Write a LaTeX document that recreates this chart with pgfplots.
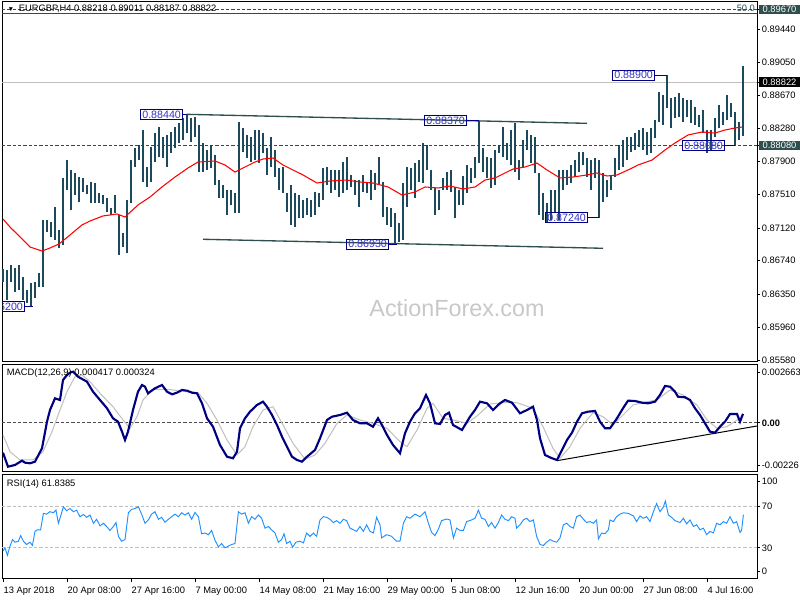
\documentclass[border=0pt]{standalone}
\usepackage{pgfplots}
\pgfplotsset{compat=1.18}
\usepackage{pgfplotstable}
\usepackage{fontspec}
\setmainfont{Liberation Sans}
\definecolor{barc}{RGB}{28,74,92}
\definecolor{slate}{RGB}{47,79,79}
\definecolor{navyc}{RGB}{0,0,128}
\definecolor{lbltxt}{RGB}{51,51,204}
\definecolor{silverc}{RGB}{192,192,192}
\definecolor{rsic}{RGB}{30,144,255}
\definecolor{wmc}{RGB}{200,200,200}

\pgfplotstableread{
j hi lo
0 0.86642 0.86490
2 0.86630 0.86280
4 0.86688 0.86490
6 0.86654 0.86373
8 0.86688 0.86397
10 0.86548 0.86280
12 0.86397 0.86245
14 0.86478 0.86200
16 0.86490 0.86303
18 0.86595 0.86432
20 0.87213 0.86432
22 0.87213 0.87073
24 0.87189 0.87015
26 0.87364 0.86980
28 0.87096 0.86886
30 0.87703 0.86921
32 0.87912 0.87563
34 0.87796 0.87329
36 0.87761 0.87504
38 0.87714 0.87423
40 0.87703 0.87539
42 0.87621 0.87516
44 0.87656 0.87411
46 0.87644 0.87411
48 0.87528 0.87411
50 0.87504 0.87400
52 0.87469 0.87306
54 0.87353 0.87271
56 0.87504 0.87294
58 0.87271 0.86805
60 0.87061 0.86898
62 0.87446 0.86828
64 0.87912 0.87411
66 0.88052 0.87831
68 0.88087 0.87912
70 0.88262 0.87656
72 0.87831 0.87598
74 0.88064 0.87656
76 0.88227 0.87889
78 0.88297 0.87947
80 0.88181 0.87936
82 0.88204 0.87831
84 0.88239 0.87994
86 0.88297 0.88052
88 0.88344 0.88111
90 0.88402 0.88146
92 0.88440 0.88227
94 0.88402 0.88122
96 0.88414 0.88181
98 0.88321 0.87772
100 0.88111 0.87772
102 0.88029 0.87796
104 0.88087 0.87819
106 0.87971 0.87621
108 0.87679 0.87469
110 0.87621 0.87469
112 0.87563 0.87271
114 0.87563 0.87388
116 0.87528 0.87294
118 0.88356 0.87294
120 0.88286 0.88006
122 0.88204 0.87936
124 0.88181 0.87889
126 0.88262 0.87912
128 0.88262 0.87877
130 0.88227 0.87994
132 0.88052 0.87738
134 0.88181 0.87831
136 0.88029 0.87714
138 0.87819 0.87563
140 0.87831 0.87528
142 0.87528 0.87306
144 0.87621 0.87155
146 0.87528 0.87131
148 0.87504 0.87236
150 0.87446 0.87236
152 0.87469 0.87271
154 0.87446 0.87248
156 0.87539 0.87271
158 0.87528 0.87364
160 0.87819 0.87446
162 0.87831 0.87621
164 0.87796 0.87528
166 0.87796 0.87563
168 0.87796 0.87481
170 0.87889 0.87528
172 0.87947 0.87563
174 0.87738 0.87598
176 0.87679 0.87504
178 0.87679 0.87364
180 0.87738 0.87539
182 0.87644 0.87528
184 0.87796 0.87446
186 0.87761 0.87563
188 0.87947 0.87621
190 0.87656 0.87248
192 0.87364 0.87155
194 0.87353 0.87131
196 0.87294 0.86930
198 0.87178 0.86956
200 0.87644 0.86980
202 0.87831 0.87364
204 0.87819 0.87563
206 0.87877 0.87469
208 0.87912 0.87656
210 0.88111 0.87644
212 0.88087 0.87796
214 0.87796 0.87563
216 0.87586 0.87271
218 0.87563 0.87329
220 0.87703 0.87563
222 0.87772 0.87563
224 0.87796 0.87539
226 0.87598 0.87236
228 0.87563 0.87388
230 0.87726 0.87388
232 0.87854 0.87528
234 0.87819 0.87644
236 0.87947 0.87703
238 0.88370 0.87877
240 0.88052 0.87772
242 0.87947 0.87703
244 0.87936 0.87586
246 0.88029 0.87621
248 0.88087 0.87994
250 0.88297 0.87947
252 0.88111 0.87912
254 0.88262 0.87854
256 0.88344 0.87772
258 0.87912 0.87679
260 0.88146 0.87819
262 0.88262 0.88029
264 0.88204 0.87877
266 0.88181 0.87761
268 0.87761 0.87271
270 0.87528 0.87213
272 0.87411 0.87189
274 0.87563 0.87213
276 0.87563 0.87294
278 0.87796 0.87213
280 0.87796 0.87563
282 0.87796 0.87621
284 0.87854 0.87644
286 0.87912 0.87714
288 0.88006 0.87772
290 0.88006 0.87854
292 0.87936 0.87714
294 0.87912 0.87563
296 0.87936 0.87703
298 0.87912 0.87240
300 0.87761 0.87423
302 0.87679 0.87481
304 0.87738 0.87563
306 0.87936 0.87714
308 0.88087 0.87796
310 0.88146 0.87831
312 0.88181 0.87912
314 0.88181 0.88006
316 0.88227 0.88029
318 0.88262 0.88064
320 0.88286 0.88029
322 0.88239 0.87971
324 0.88286 0.87994
326 0.88379 0.88169
328 0.88705 0.88356
330 0.88670 0.88321
332 0.88900 0.88519
334 0.88635 0.88286
336 0.88647 0.88402
338 0.88694 0.88414
340 0.88635 0.88356
342 0.88612 0.88414
344 0.88612 0.88344
346 0.88530 0.88321
348 0.88437 0.88297
350 0.88495 0.88227
352 0.88262 0.87994
354 0.88262 0.88029
356 0.88402 0.88181
358 0.88554 0.88286
360 0.88472 0.88321
362 0.88670 0.88379
364 0.88577 0.88414
366 0.88472 0.88087
368 0.88356 0.88146
370 0.89011 0.88187
}\bars

\pgfplotstableread{
j v
0 0.87224
3.5 0.87131
8.5 0.87015
13.5 0.86898
19.5 0.86851
23.5 0.86886
28 0.86933
33.5 0.87038
39.5 0.87155
43.5 0.87201
50 0.87260
57 0.87283
61 0.87248
67.5 0.87388
73.5 0.87481
79.5 0.87598
86 0.87714
92.5 0.87819
97.5 0.87889
106 0.87901
111 0.87854
116 0.87772
121 0.87831
126 0.87889
130 0.87924
135 0.87936
140 0.87854
145 0.87796
150 0.87738
157 0.87644
163.5 0.87668
172 0.87679
178.5 0.87656
185 0.87644
192.5 0.87598
199.5 0.87504
206 0.87539
211 0.87598
217.5 0.87586
223.5 0.87609
230 0.87574
236 0.87598
241 0.87679
246 0.87703
251 0.87761
255 0.87807
261 0.87831
267 0.87877
272 0.87796
278.5 0.87703
285 0.87714
292 0.87738
297 0.87761
302 0.87726
307 0.87738
313.5 0.87807
317.5 0.87854
324.5 0.87912
331 0.88029
336 0.88111
342.5 0.88204
349.5 0.88239
356 0.88227
361 0.88262
366 0.88286
369.5 0.88297
}\ma

\pgfplotstableread{
j v
0 -0.001371
2.5 -0.002016
6 -0.001937
9.5 -0.001739
11 -0.001831
13.5 -0.001859
16 -0.001785
19.5 -0.001169
22 0.000055
23.5 0.000593
26 0.001131
28.5 0.001053
30 0.001973
32 0.002203
33.5 0.002309
35 0.002355
37.5 0.002124
42 0.001895
45 0.001435
48.5 0.001053
52 0.000671
55 0.000211
57.5 0.000055
59.5 -0.000405
61 -0.000787
62.5 -0.000405
65 0.000593
67.5 0.001435
69.5 0.001743
71 0.001665
72.5 0.001361
76 0.001591
79.5 0.001743
82 0.001435
84.5 0.001315
87 0.001389
89.5 0.001513
92 0.001481
94.5 0.001389
97 0.001361
99.5 0.000901
102 0.000211
105 -0.000176
108.5 -0.001017
112 -0.001556
115 -0.001629
117 -0.001325
118.5 -0.000249
121 0.000211
123.5 0.000515
127 0.000823
130 0.000975
132 0.000744
134.5 0.000363
137 -0.000097
139.5 -0.000636
142 -0.001096
144.5 -0.001556
147 -0.001707
149.5 -0.001785
152 -0.001556
156 -0.001247
158.5 -0.000709
162 0.000133
164.5 0.000284
168.5 0.000363
172 0.000469
175 0.000133
178.5 -0.000019
182 -0.000019
185 -0.000176
187.5 0.000211
189.5 -0.000097
192 -0.000557
195 -0.001017
198.5 -0.001399
201 -0.000479
203.5 0.000055
206 0.000441
208.5 0.000671
211.5 0.001283
213.5 0.000901
216 -0.000019
218.5 -0.000051
221 0.000363
223 0.000469
225 -0.000097
229.5 -0.000327
233.5 0.000284
236 0.000593
238.5 0.000975
242 0.000901
245 0.000593
248.5 0.000901
251 0.001053
254.5 0.000929
258.5 0.000441
262 0.000593
265 0.000744
267 0.000133
268.5 -0.000709
271 -0.001477
274.5 -0.001629
277 -0.001707
279.5 -0.001247
282 -0.000787
284.5 -0.000451
287 0.000055
289.5 0.000441
292.5 0.000515
296 0.000547
298.5 0.000055
301 -0.000249
303.5 -0.000249
307 0.000211
310 0.000671
312.5 0.001021
316 0.001007
319.5 0.000929
322.5 0.000901
326 0.000975
328.5 0.001283
331 0.001697
333.5 0.001665
336 0.001435
337.5 0.001204
341 0.001177
343.5 0.001053
346 0.000671
348.5 0.000363
351 -0.000019
353.5 -0.000405
356 -0.000451
358.5 -0.000176
361 0.000055
363.5 0.000409
367 0.000409
368.5 0.000055
370 0.000417
}\macd

\pgfplotstableread{
j v
0 -0.000557
3.5 -0.001325
8.5 -0.001707
15 -0.001707
20 -0.001325
24.5 -0.000405
28.5 0.000593
32 0.001435
36 0.002124
39.5 0.002203
43.5 0.001895
48.5 0.001361
55 0.000744
60 0.000133
63.5 -0.000249
67 0.000284
70 0.001053
75 0.001545
82 0.001545
92 0.001435
97.5 0.001389
102 0.000901
107 0.000133
112 -0.000787
117 -0.001477
121 -0.001096
125 -0.000176
130 0.000593
135 0.000744
140 -0.000097
145 -0.000939
151 -0.001675
156 -0.001477
161 -0.000939
167 -0.000019
172 0.000363
178.5 0.000133
185 -0.000019
192 -0.000249
198.5 -0.000865
202 -0.001096
207 -0.000327
212 0.000671
215 0.000901
220 0.000211
225 0.000133
232 -0.000019
237 0.000316
243.5 0.000869
250 0.000929
257 0.000929
265 0.000671
270 -0.000176
275 -0.001169
278.5 -0.001629
283.5 -0.001096
288.5 -0.000249
295 0.000469
300 0.000284
305 -0.000097
310 0.000363
315 0.000823
322 0.000975
327 0.001053
333.5 0.001513
340 0.001283
347 0.000823
352 0.000133
357 -0.000249
362 -0.000176
367 0.000133
370 0.000324
}\sig

\pgfplotstableread{
j v
0 26.9
1 30.0
2.2 22.8
3.5 31.6
4.8 37.9
6 35.4
7.7 36.3
8.8 41.7
10.2 36.3
11.8 33.2
13.5 35.4
14.7 32.2
16 45.8
17.2 47.3
18.8 47.3
20.2 63.1
21.8 62.4
23.5 64.7
25.2 63.7
26.5 66.2
27.7 53.6
28.5 58.4
30.2 69.4
31.8 65.6
33.5 67.8
35.2 64.7
36.8 66.2
38.5 59.9
40.2 62.1
41.8 59.3
43.5 61.5
45.2 53.6
46.8 57.4
48.5 51.1
50.2 53.6
51.8 50.5
53.5 46.7
55.2 50.5
56.5 54.3
57.7 41.0
59.3 36.3
61 37.9
62.7 63.7
64.3 66.9
66 67.8
67.7 69.4
69.3 62.4
71 53.6
72.7 56.8
74.3 62.4
76 64.7
77.7 57.4
79.3 59.3
81 54.6
82.7 57.4
84.3 59.9
86 62.4
87.7 59.9
89.3 63.7
91 61.5
92.7 63.7
94.3 57.4
96 64.0
97.7 59.9
99.3 43.5
101 44.2
102.7 42.6
104.3 46.7
106 37.2
107.7 30.9
109.3 34.1
111 30.0
112.7 31.6
114.3 33.2
116 34.1
117.7 64.7
119.3 62.4
121 63.7
122.7 53.6
124.3 59.9
126 57.4
127.7 61.5
129.3 58.4
131 48.9
132.7 50.5
134.3 47.3
136 44.2
137.7 35.4
139.3 37.9
140.5 43.5
141.8 34.1
143.5 36.3
144.8 30.6
146.5 35.4
148.5 36.3
150.2 34.7
151.8 44.2
153.5 41.0
155.2 44.2
156.8 41.0
158.5 56.8
160.2 59.9
161.8 59.3
163.5 57.4
165.2 54.3
166.8 56.1
168.5 53.6
170.2 57.4
171.8 56.1
173.5 48.9
175.2 47.3
176.8 45.8
178.5 50.5
180.2 45.8
181.8 52.1
183.5 45.8
185.2 44.2
186.8 59.3
188.5 52.1
189.3 39.5
191.8 42.6
194.3 41.0
196.8 36.3
198.5 36.5
200.2 53.6
201.8 59.9
203.5 58.4
206 62.4
208.5 59.9
211 64.7
212.7 53.6
214.3 44.8
216 41.7
217.7 48.0
219.3 56.1
221.8 57.7
223.5 56.8
225.2 39.5
226.8 48.9
228.5 46.7
230.2 46.7
231.8 55.2
234.3 56.8
236 58.4
237.7 66.2
239.3 58.4
241 57.4
242.7 50.5
244.3 54.3
246 48.9
247.7 54.3
249.3 61.5
251 57.4
252.7 56.1
254.3 59.9
256 58.4
256.8 48.9
258.5 52.1
260.2 56.8
261.8 58.4
263.5 55.2
265.2 56.8
266.8 41.0
268.5 33.2
270.2 32.2
271.8 35.4
273.5 37.9
275.2 36.3
276.8 35.4
278.5 39.5
280.2 52.1
281.8 53.6
283.5 50.5
285.2 48.9
286.8 59.9
288.5 61.5
290.2 57.4
291.8 54.3
293.5 55.2
295.2 53.6
296.8 56.8
297.7 38.5
299.3 44.2
301 43.5
302.7 47.3
303.5 56.8
305.2 55.2
306.8 59.9
308.5 62.4
310.2 63.7
312.7 63.1
315.2 60.6
316.8 55.2
318.5 60.6
320.2 58.4
321.8 59.9
323.5 55.2
325.2 64.7
326.8 72.5
328.5 64.7
330.2 69.4
331.2 75.0
332.7 61.5
334.3 59.3
336 56.1
338.5 54.3
340.2 58.4
341.8 53.0
343.5 56.8
345.2 50.5
346.8 52.1
348.5 47.3
350.2 48.9
351.8 42.6
353.5 45.8
355.2 44.2
356.8 53.6
358.5 52.1
360.2 55.2
361.8 53.6
363.5 59.9
365.2 53.6
366.8 55.2
368.5 44.8
369.3 46.7
370.2 61.8
}\rsi

\tikzset{
  lbl/.style={draw=navyc, line width=0.75pt, text=lbltxt,
    font=\fontsize{8}{9}\selectfont, inner xsep=1.2pt, inner ysep=1pt, anchor=east},
  hl/.style={anchor=west, text=white, font=\fontsize{7}{8}\selectfont,
    inner xsep=1.5pt, inner ysep=1pt, minimum width=31pt, align=left}
}
\pgfplotsset{
  panel/.style={scale only axis, width=566.25pt, xmin=-0.5, xmax=377,
    axis line style={black, line width=0.75pt},
    tick style={black, line width=0.6pt},
    tick align=outside, major tick length=2.25pt,
    ytick pos=right, yticklabel pos=right,
    ticklabel style={font=\fontsize{7}{8}\selectfont},
    yticklabel style={inner xsep=1.2pt},
    scaled y ticks=false,
    xtick=\empty},
}

\begin{document}
\begin{tikzpicture}
\useasboundingbox (0pt,0pt) rectangle (600pt,450pt);
\fill[white] (0pt,0pt) rectangle (600pt,450pt);
\node[text=wmc, font=\fontsize{17.5}{20}\selectfont, inner sep=0pt] at (342.75pt,219pt) {ActionForex.com};

% ---------- price panel ----------
\begin{axis}[panel, at={(1.5pt,178.5pt)}, anchor=south west, height=270pt,
  ymin=0.85557, ymax=0.89755,
  ytick={0.8944,0.8905,0.8867,0.8828,0.8790,0.8751,0.8712,0.8674,0.8635,0.8596,0.8558},
  yticklabels={0.89440,0.89050,0.88670,0.88280,0.87900,0.87510,0.87120,0.86740,0.86350,0.85960,0.85580},
  extra y ticks={0.8967,0.88822,0.8808}, extra y tick labels={},
  ]
\addplot[slate, line width=0.75pt, dash pattern=on 2.5pt off 1.5pt] coordinates {(-0.5,0.8967) (377,0.8967)};
\addplot[slate, line width=0.9pt] coordinates {(-0.5,0.89624) (377,0.89624)};
\addplot[silverc, line width=0.75pt] coordinates {(-0.5,0.88822) (377,0.88822)};
\addplot[slate, line width=0.75pt, dash pattern=on 2.5pt off 1.5pt] coordinates {(-0.5,0.8808) (377,0.8808)};
\addplot[slate, line width=1pt] coordinates {(92,0.88445) (292,0.88340)};
\addplot[slate, line width=1pt] coordinates {(100,0.86988) (300,0.86883)};
\addplot[draw=none, mark=none, error bars/.cd, y dir=minus, y explicit, error mark=none,
  error bar style={draw=barc, line width=1pt, solid}]
  table[x=j, y=hi, y error minus expr=\thisrow{hi}-\thisrow{lo}] {\bars};
\addplot[red, line width=0.8pt] table[x=j, y=v] {\ma};
% price labels
\draw[navyc, line width=0.75pt] (axis cs:11,0.8620) -- (axis cs:15,0.8620);
\node[lbl] at (axis cs:11,0.8620) {0.86200};
\draw[navyc, line width=0.75pt] (axis cs:90,0.8844) -- (axis cs:92,0.8844);
\node[lbl] at (axis cs:90,0.8844) {0.88440};
\draw[navyc, line width=0.75pt] (axis cs:193,0.8693) -- (axis cs:197,0.8693);
\node[lbl] at (axis cs:193,0.8693) {0.86930};
\draw[navyc, line width=0.75pt] (axis cs:232,0.8837) -- (axis cs:238,0.8837);
\node[lbl] at (axis cs:232,0.8837) {0.88370};
\draw[navyc, line width=0.75pt] (axis cs:292.5,0.8724) -- (axis cs:298,0.8724);
\node[lbl] at (axis cs:292.5,0.8724) {0.87240};
\draw[navyc, line width=0.75pt] (axis cs:326,0.8890) -- (axis cs:332,0.8890);
\node[lbl] at (axis cs:326,0.8890) {0.88900};
\draw[navyc, line width=0.75pt] (axis cs:361,0.8808) -- (axis cs:366,0.8808);
\node[lbl] at (axis cs:361,0.8808) {0.88080};
\node[anchor=base east, text=slate, font=\fontsize{7}{8}\selectfont, inner sep=0.6pt] at ([yshift=-1.8pt]axis cs:376.5,0.8967) {50.0};
\coordinate (h1) at (axis cs:377,0.8967);
\coordinate (h2) at (axis cs:377,0.88822);
\coordinate (h3) at (axis cs:377,0.8808);
\end{axis}
\node[hl, fill=slate] at ([xshift=1.2pt]h1) {0.89670};
\node[hl, fill=black] at ([xshift=1.2pt]h2) {0.88822};
\node[hl, fill=slate] at ([xshift=1.2pt]h3) {0.88080};

% ---------- MACD panel ----------
\begin{axis}[panel, at={(1.5pt,96pt)}, anchor=south west, height=80.25pt,
  ymin=-0.00226, ymax=0.002663,
  ytick={-0.001937,0,0.002341},
  yticklabels={-0.00226,\textbf{0.00},0.002663}]
\addplot[gray!60!black, line width=0.6pt, dash pattern=on 2.5pt off 1.5pt] coordinates {(-0.5,0) (377,0)};
\addplot[black, line width=0.75pt] coordinates {(277,-0.001739) (377,-0.000144)};
\addplot[silverc, line width=0.75pt] table[x=j, y=v] {\sig};
\addplot[navyc, line width=1.6pt] table[x=j, y=v] {\macd};
\end{axis}

% ---------- RSI panel ----------
\begin{axis}[panel, at={(1.5pt,15.75pt)}, anchor=south west, height=78pt,
  ymin=0, ymax=100,
  ytick={7,30,70,94}, yticklabels={0,30,70,100},
  xtick={0,32,64,96,128,160,192,224,256,288,320,352},
  xticklabels={13 Apr 2018,20 Apr 08:00,27 Apr 16:00,7 May 00:00,14 May 08:00,21 May 16:00,29 May 00:00,5 Jun 08:00,12 Jun 16:00,20 Jun 00:00,27 Jun 08:00,4 Jul 16:00},
  xtick pos=bottom,
  xticklabel style={anchor=north west, inner xsep=0.3pt}]
\addplot[silverc, line width=0.6pt, dash pattern=on 2.5pt off 1.5pt] coordinates {(-0.5,70) (377,70)};
\addplot[silverc, line width=0.6pt, dash pattern=on 2.5pt off 1.5pt] coordinates {(-0.5,30) (377,30)};
\addplot[rsic, line width=0.7pt] table[x=j, y=v] {\rsi};
\end{axis}

% titles
\node[anchor=west, font=\fontsize{7}{8}\selectfont, inner sep=0pt] at (5.5pt,443.25pt)
  {{\fontsize{5}{6}\selectfont ▼}\hspace{3.5pt}EURGBP,H4 0.88218 0.89011 0.88187 0.88822};
\node[anchor=west, font=\fontsize{7}{8}\selectfont, inner sep=0pt] at (5pt,170.25pt)
  {MACD(12,26,9) 0.000417 0.000324};
\node[anchor=west, font=\fontsize{7}{8}\selectfont, inner sep=0pt] at (5pt,87pt)
  {RSI(14) 61.8385};
\end{tikzpicture}
\end{document}
